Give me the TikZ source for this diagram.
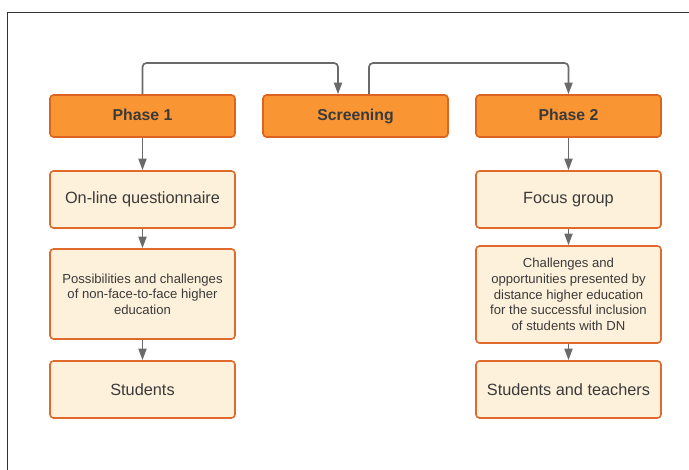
\documentclass[tikz,border=0pt]{standalone}
\usepackage{fontspec}
\setmainfont{Liberation Sans}
\usetikzlibrary{arrows.meta}
\definecolor{hdrfill}{HTML}{F99533}
\definecolor{hdrdraw}{HTML}{DD6420}
\definecolor{boxfill}{HTML}{FEF1DC}
\definecolor{boxdraw}{HTML}{E06A2C}
\definecolor{txt}{HTML}{3A3A3A}
\definecolor{conncol}{HTML}{6A6A6A}
\definecolor{framecol}{HTML}{333333}
\tikzset{
  hdr/.style={draw=hdrdraw, fill=hdrfill, line width=1.6pt, rounded corners=3.5pt,
    minimum width=185pt, minimum height=42pt, inner sep=0pt, text=txt,
    text height=11.5pt, text depth=2.5pt,
    font=\fontsize{15.8}{18}\selectfont\bfseries},
  bigbox/.style={draw=boxdraw, fill=boxfill, line width=1.6pt, rounded corners=3.5pt,
    minimum width=185pt, inner sep=0pt, text=txt,
    font=\fontsize{16.3}{19}\selectfont},
  smallbox/.style={bigbox, align=center, font=\fontsize{13.1}{15.6}\selectfont},
  conn/.style={draw=conncol, line width=1.7pt, -{Triangle[length=11.5pt,width=8pt]}},
}
\begin{document}
\begin{tikzpicture}[x=1pt,y=-1pt]
\useasboundingbox (0,0) rectangle (689,470);
\draw[framecol, line width=1pt] (7.5,470) -- (7.5,12.5) -- (689,12.5);

\node[hdr] (p1) at (142.5,116) {Phase 1};
\node[hdr] (scr) at (355.5,116) {Screening};
\node[hdr] (p2) at (568.5,116) {Phase 2};

\node[bigbox, minimum height=57pt] (q) at (142.5,199.5) {On-line questionnaire};
\node[smallbox, minimum height=90pt] (pos) at (142.5,294) {Possibilities and challenges\\of non-face-to-face higher\\education};
\node[bigbox, minimum height=57pt] (st) at (142.5,389.5) {Students};

\node[bigbox, minimum height=57pt] (fg) at (568.5,199.5) {Focus group};
\node[smallbox, minimum height=97pt] (ch) at (568.5,294.5) {Challenges and\\opportunities presented by\\distance higher education\\for the successful inclusion\\of students with DN};
\node[bigbox, minimum height=57pt] (sat) at (568.5,389.5) {Students and teachers};

\coordinate (a1) at ([xshift=-17.5pt]scr.north);
\coordinate (a2) at ([xshift=13.5pt]scr.north);
\draw[conn, rounded corners=4pt] (p1.north) -- (p1.north |- 0,63) -- (a1 |- 0,63) -- (a1);
\draw[conn, rounded corners=4pt] (a2) -- (a2 |- 0,63) -- (p2.north |- 0,63) -- (p2.north);

\draw[conn] (p1) -- (q);
\draw[conn] (q) -- (pos);
\draw[conn] (pos) -- (st);
\draw[conn] (p2) -- (fg);
\draw[conn] (fg) -- (ch);
\draw[conn] (ch) -- (sat);
\end{tikzpicture}
\end{document}
